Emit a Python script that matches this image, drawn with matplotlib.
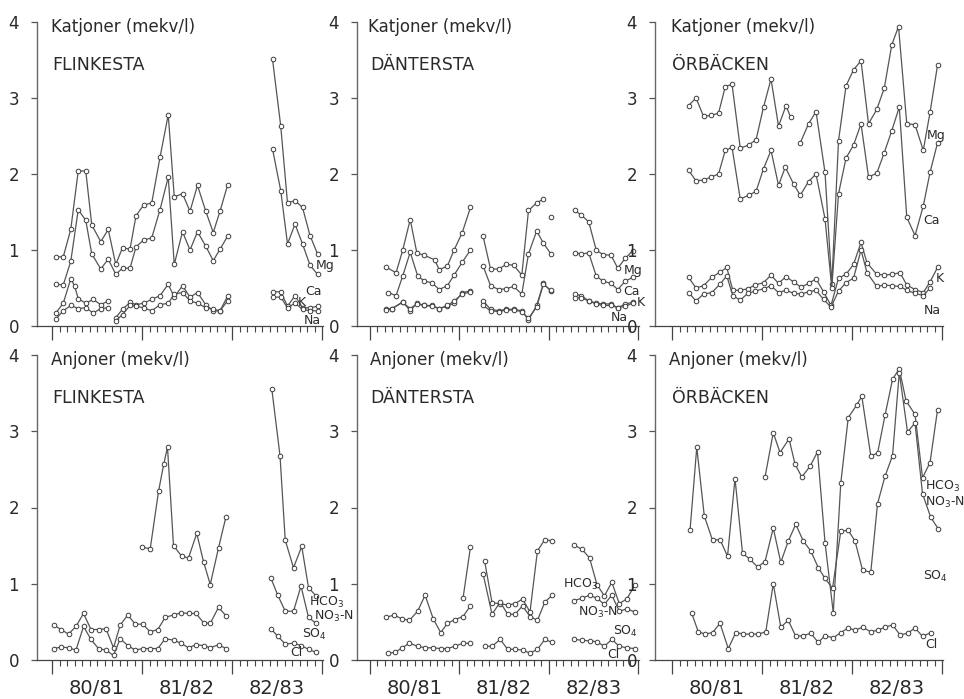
import matplotlib
matplotlib.use("Agg")
import matplotlib.pyplot as plt
import numpy as np

nan = np.nan
plt.rcParams['font.family'] = ['DejaVu Sans']
plt.rcParams['mathtext.default'] = 'regular'

years = ["80/81", "81/82", "82/83"]
year_mid = [6, 18, 30]

# ---- Katjoner, FLINKESTA
fl_k_x = [0.5, 1.5, 2.5, 3.5, 4.5, 5.3, 6.5, 7.5, 8.5, 9.4, 10.4, 11.2, 12.2, 13.3, 14.4, 15.5, 16.3, 17.4,
          18.4, 19.4, 20.5, 21.5, 22.4, 23.4, nan, 29.4, 30.5, 31.4, 32.4, 33.4, 34.4, 35.4]
fl_mg = [0.91, 0.91, 1.27, 2.04, 2.04, 1.33, 1.11, 1.27, 0.81, 1.03, 1.01, 1.45, 1.59, 1.62, 2.22, 2.78, 1.70, 1.74,
         1.51, 1.85, 1.51, 1.23, 1.51, 1.85, nan, 3.51, 2.63, 1.62, 1.65, 1.56, 1.19, 0.95]
fl_ca = [0.55, 0.54, 0.85, 1.53, 1.39, 0.95, 0.75, 0.88, 0.68, 0.76, 0.76, 1.04, 1.13, 1.16, 1.53, 1.96, 0.81, 1.24,
         1.00, 1.24, 1.05, 0.86, 1.01, 1.18, nan, 2.33, 1.78, 1.08, 1.34, 1.08, 0.80, 0.68]
fl_kk_x = [0.5, 1.5, 2.5, 3.0, 3.5, 4.5, 5.5, 6.5, 7.5, nan, 8.5, 9.4, 10.4, 11.2, 12.2, 13.3, 14.4, 15.5, 16.3,
           17.4, 18.4, 19.4, 20.5, 21.5, 22.4, 23.4, nan, 29.4, 30.5, 31.4, 32.4, 33.4, 34.4, 35.4]
fl_kk = [0.17, 0.30, 0.62, 0.53, 0.36, 0.30, 0.35, 0.28, 0.33, nan, 0.11, 0.22, 0.31, 0.28, 0.30, 0.35, 0.40, 0.55,
         0.38, 0.53, 0.38, 0.44, 0.28, 0.20, 0.20, 0.39, nan, 0.45, 0.45, 0.26, 0.40, 0.24, 0.24, 0.26]
fl_na_x = [0.5, 1.5, 2.5, 3.5, 4.5, 5.5, 6.5, 7.5, nan, 8.5, 9.4, 10.4, 11.2, 12.2, 13.3, 14.4, 15.5, 16.3,
           17.4, 18.4, 19.4, 20.5, 21.5, 22.4, 23.4, nan, 29.4, 30.5, 31.4, 32.4, 33.4, 34.4, 35.4]
fl_na = [0.09, 0.20, 0.27, 0.23, 0.24, 0.17, 0.23, 0.24, nan, 0.07, 0.15, 0.27, 0.26, 0.24, 0.20, 0.28, 0.30, 0.42,
         0.44, 0.33, 0.30, 0.24, 0.22, 0.20, 0.33, nan, 0.38, 0.38, 0.24, 0.30, 0.22, 0.20, 0.20]

# ---- Katjoner, DANTERSTA
da_mg_x = [2.1, 3.5, 4.4, 5.4, 6.3, 7.3, 8.7, 9.3, 10.4, 11.3, 12.4, 13.5, nan, 15.2, 16.2, 17.3, 18.3, 19.3, 20.4,
           21.3, 22.4, 23.3, nan, 24.3, nan, 27.5, 28.4, 29.4, 30.4, 31.3, 32.4, 33.3, 34.3, 35.3]
da_mg = [0.78, 0.70, 1.00, 1.40, 0.96, 0.93, 0.87, 0.74, 0.79, 1.00, 1.23, 1.56, nan, 1.18, 0.75, 0.75, 0.81, 0.80,
         0.67, 1.52, 1.62, 1.67, nan, 1.43, nan, 1.52, 1.46, 1.37, 1.00, 0.94, 0.93, 0.76, 0.89, 0.99]
da_ca_x = [2.4, 3.5, 4.4, 5.4, 6.4, 7.3, 8.3, 9.3, 10.4, 11.3, 12.4, 13.5, nan, 15.2, 16.2, 17.3, 18.3, 19.3, 20.4,
           21.3, 22.4, 23.3, 24.3, nan, 27.5, 28.4, 29.4, 30.4, 31.3, 32.4, 33.3, 34.3, 35.3]
da_ca = [0.44, 0.40, 0.66, 0.97, 0.66, 0.59, 0.57, 0.48, 0.53, 0.67, 0.84, 1.00, nan, 0.79, 0.53, 0.48, 0.49, 0.52,
         0.42, 0.95, 1.25, 1.09, 0.95, nan, 0.96, 0.95, 0.96, 0.66, 0.59, 0.56, 0.48, 0.59, 0.64]
da_kna_x = [2.1, 2.9, 4.4, 5.4, 6.3, 7.3, 8.3, 9.3, 10.4, 11.3, 12.4, 13.5, nan, 15.2, 16.2, 17.3, 18.3, 19.3, 20.4,
            21.3, 22.4, 23.3, 24.3, nan, 27.5, 28.4, 29.4, 30.4, 31.3, 32.4, 33.3, 34.3, 35.3]
da_kk = [0.22, 0.22, 0.32, 0.20, 0.30, 0.27, 0.27, 0.23, 0.26, 0.30, 0.44, 0.46, nan, 0.33, 0.22, 0.20, 0.22, 0.22,
         0.20, 0.08, 0.27, 0.56, 0.46, nan, 0.42, 0.40, 0.33, 0.30, 0.29, 0.29, 0.24, 0.29, 0.31]
da_na = [0.21, 0.23, 0.31, 0.23, 0.29, 0.27, 0.26, 0.23, 0.27, 0.33, 0.42, 0.45, nan, 0.27, 0.20, 0.19, 0.21, 0.21,
         0.19, 0.10, 0.25, 0.55, 0.47, nan, 0.37, 0.37, 0.33, 0.29, 0.27, 0.27, 0.24, 0.26, 0.30]

# ---- Katjoner, ÖRBÄCKEN
or_mg_x = [2.2, 3.2, 4.2, 5.2, 6.2, 7.1, 8.0, 9.1, 10.2, 11.2, 12.2, 13.2, 14.2, 15.2, 15.8, nan, 17.1, 18.2, 19.2,
           20.4, 21.3, 22.2, 23.2, 24.2, 25.2, 26.2, 27.3, 28.3, 29.3, 30.2, 31.3, 32.4, 33.5, 34.4, 35.4]
or_mg = [2.90, 3.00, 2.76, 2.77, 2.80, 3.15, 3.18, 2.34, 2.38, 2.45, 2.88, 3.25, 2.63, 2.90, 2.75, nan, 2.41, 2.66,
         2.82, 2.02, 0.55, 2.44, 3.16, 3.37, 3.49, 2.66, 2.85, 3.13, 3.70, 3.94, 2.66, 2.65, 2.31, 2.81, 3.43]
or_ca_x = [2.2, 3.2, 4.2, 5.2, 6.2, 7.1, 8.0, 9.1, 10.2, 11.2, 12.2, 13.2, 14.2, 15.1, 16.2, 17.1, 18.2, 19.2, 20.4,
           21.3, 22.2, 23.2, 24.2, 25.2, 26.2, 27.3, 28.3, 29.3, 30.3, 31.3, 32.4, 33.5, 34.4, 35.4]
or_ca = [2.05, 1.91, 1.92, 1.96, 2.00, 2.31, 2.35, 1.67, 1.72, 1.77, 2.07, 2.31, 1.85, 2.09, 1.87, 1.72, 1.90, 2.00,
         1.41, 0.50, 1.74, 2.21, 2.38, 2.66, 1.96, 2.01, 2.28, 2.57, 2.88, 1.43, 1.19, 1.58, 2.02, 2.41]
or_kk_x = [2.2, 3.2, 4.2, 5.3, 6.4, 7.3, 8.1, 9.1, 10.1, 11.1, 12.2, 13.2, 14.2, 15.2, 16.2, 17.2, 18.2, 19.2, 20.2,
           21.2, 22.2, 23.2, 24.2, 25.2, 26.0, 27.3, 28.3, 29.3, 30.4, 31.3, 32.4, 33.5, 34.4, 35.4]
or_kk = [0.64, 0.50, 0.53, 0.64, 0.71, 0.77, 0.47, 0.47, 0.49, 0.54, 0.57, 0.67, 0.56, 0.65, 0.58, 0.51, 0.56, 0.62,
         0.45, 0.27, 0.63, 0.68, 0.81, 1.10, 0.83, 0.68, 0.67, 0.68, 0.70, 0.54, 0.48, 0.44, 0.58, 0.77]
or_na_x = [2.2, 3.2, 4.2, 5.3, 6.4, 7.3, 8.1, 9.1, 10.1, 11.1, 12.2, 13.2, 14.2, 15.2, 16.2, 17.2, 18.2, 19.2, 20.2,
           21.2, 22.2, 23.2, 24.2, 25.2, 26.0, 27.3, 28.3, 29.3, 30.4, 31.3, 32.4, 33.5, 34.4]
or_na = [0.44, 0.33, 0.42, 0.44, 0.55, 0.66, 0.40, 0.34, 0.43, 0.46, 0.49, 0.53, 0.44, 0.47, 0.43, 0.42, 0.45, 0.47,
         0.35, 0.25, 0.46, 0.57, 0.63, 1.00, 0.70, 0.52, 0.54, 0.53, 0.52, 0.47, 0.43, 0.40, 0.50]

# ---- Anjoner, FLINKESTA
fla_hco3_x = [12.0, 13.1, 14.2, 14.9, 15.4, 16.2, 17.3, 18.2, 19.3, 20.2, 21.1, 22.2, 23.2, nan,
              29.3, 30.4, 31.1, 32.2, 33.3, 34.2, 35.2]
fla_hco3 = [1.48, 1.46, 2.21, 2.57, 2.79, 1.50, 1.36, 1.34, 1.66, 1.29, 0.99, 1.47, 1.88, nan,
            3.56, 2.68, 1.57, 1.21, 1.49, 0.95, 0.84]
fla_x = [0.2, 1.2, 2.2, 3.2, 4.2, 5.2, 6.2, 7.2, 8.2, 9.1, 10.1, 11.1, 12.1, 13.1, 14.1, 15.1, 16.2, 17.2, 18.2,
         19.2, 20.2, 21.1, 22.2, 23.2, nan, 29.2, 30.1, 31.1, 32.2, 33.2, 34.2, 35.2]
fla_so4 = [0.46, 0.40, 0.34, 0.44, 0.61, 0.40, 0.40, 0.41, 0.16, 0.46, 0.59, 0.47, 0.47, 0.37, 0.40, 0.56, 0.59, 0.62,
           0.61, 0.61, 0.49, 0.48, 0.69, 0.58, nan, 1.07, 0.85, 0.64, 0.64, 0.97, 0.56, 0.48]
fla_cl = [0.15, 0.17, 0.16, 0.13, 0.44, 0.27, 0.15, 0.13, 0.06, 0.28, 0.19, 0.13, 0.15, 0.15, 0.15, 0.28, 0.26, 0.22,
          0.16, 0.20, 0.19, 0.16, 0.20, 0.15, nan, 0.41, 0.31, 0.21, 0.22, 0.19, 0.14, 0.10]

# ---- Anjoner, DANTERSTA
daa_hco3_x = [12.5, 13.5, nan, 15.4, 16.4, 17.5, 18.5, 19.5, 20.5, 21.5, 22.5, 23.5, 24.5, nan,
              27.4, 28.5, 29.5, 30.5, 31.5, 32.5, 33.5, 34.5, 35.6]
daa_hco3 = [0.81, 1.48, nan, 1.30, 0.75, 0.74, 0.72, 0.74, 0.80, 0.63, 1.43, 1.58, 1.56, nan,
            1.51, 1.45, 1.34, 0.99, 0.84, 1.02, 0.74, 0.80, 0.98]
daa_so4_x = [2.2, 3.2, 4.3, 5.3, 6.4, 7.4, 8.5, 9.5, 10.4, 11.4, 12.5, 13.5, nan, 15.2, 16.4, 17.5, 18.5, 19.5,
             20.5, 21.5, 22.5, 23.5, 24.5, nan, 27.4, 28.5, 29.5, 30.5, 31.5, 32.5, 33.5, 34.5, 35.6]
daa_so4 = [0.56, 0.59, 0.54, 0.52, 0.64, 0.85, 0.54, 0.36, 0.48, 0.53, 0.57, 0.71, nan, 1.13, 0.60, 0.76, 0.60, 0.60,
           0.71, 0.57, 0.52, 0.76, 0.85, nan, 0.78, 0.81, 0.85, 0.81, 0.73, 0.85, 0.64, 0.67, 0.63]
daa_cl_x = [2.4, 3.4, 4.3, 5.3, 6.4, 7.4, 8.5, 9.5, 10.4, 11.4, 12.5, 13.5, nan, 15.4, 16.4, 17.5, 18.5, 19.5,
            20.5, 21.5, 22.5, 23.5, 24.5, nan, 27.4, 28.5, 29.5, 30.5, 31.5, 32.5, 33.5, 34.5, 35.6]
daa_cl = [0.09, 0.10, 0.16, 0.22, 0.18, 0.16, 0.16, 0.15, 0.15, 0.18, 0.22, 0.22, nan, 0.18, 0.18, 0.27, 0.14, 0.14,
          0.13, 0.09, 0.14, 0.27, 0.23, nan, 0.27, 0.26, 0.25, 0.24, 0.18, 0.27, 0.18, 0.16, 0.15]

# ---- Anjoner, ÖRBÄCKEN
ora_hco3_x = [12.4, 13.5, 14.4, 15.6, 16.4, 17.3, 18.4, 19.4, 20.4, 21.5, 22.5, 23.5, 24.6, 25.3, 26.5, 27.4,
              28.4, 29.4, 30.3, 31.2, 32.4, 33.4, 34.4, 35.4]
ora_hco3 = [2.40, 2.98, 2.72, 2.90, 2.57, 2.40, 2.54, 2.73, 1.54, 0.62, 2.32, 3.18, 3.34, 3.46, 2.68, 2.71,
            3.21, 3.68, 3.82, 3.40, 3.22, 2.39, 2.59, 3.28]
ora_no3_x = [2.4, 3.3, 4.3, 5.4, 6.4, 7.4, 8.4, 9.4, 10.4, 11.4, 12.4, 13.5, 14.5, 15.5, 16.5, 17.5, 18.5, 19.5,
             20.4, 21.4, 22.5, 23.5, 24.4, 25.4, 26.5, 27.4, 28.4, 29.4, 30.3, 31.4, 32.4, 33.4, 34.5, 35.5]
ora_no3 = [1.70, 2.79, 1.89, 1.57, 1.58, 1.36, 2.38, 1.40, 1.32, 1.22, 1.29, 1.73, 1.28, 1.56, 1.78, 1.56, 1.43, 1.21,
           1.07, 0.94, 1.69, 1.70, 1.56, 1.18, 1.15, 2.05, 2.41, 2.68, 3.77, 2.99, 3.11, 2.18, 1.87, 1.72]
ora_cl_x = [2.6, 3.5, 4.4, 5.4, 6.4, 7.5, 8.5, 9.5, 10.5, 11.5, 12.5, 13.5, 14.5, 15.5, 16.5, 17.5, 18.5, 19.5,
            20.4, 21.5, 22.5, 23.5, 24.4, 25.4, 26.5, 27.4, 28.4, 29.4, 30.4, 31.4, 32.4, 33.4, 34.5]
ora_cl = [0.62, 0.37, 0.34, 0.36, 0.48, 0.15, 0.36, 0.34, 0.34, 0.34, 0.37, 1.00, 0.43, 0.52, 0.31, 0.32, 0.35, 0.23,
          0.32, 0.29, 0.36, 0.42, 0.39, 0.43, 0.37, 0.39, 0.43, 0.46, 0.33, 0.35, 0.42, 0.31, 0.36]

W, H = 964, 699
fig = plt.figure(figsize=(W / 100, H / 100), dpi=100)
fig.patch.set_facecolor('white')

cols = [(37, -2.0, 7.5), (357, -1.75, 7.44), (655, -2.27, 7.5)]
rows = [(22, 326), (355, 660)]
ink = '#2a2a2a'
line_c = '#555555'


def make_ax(col, row):
    left, x0, ppm = cols[col]
    top, bot = rows[row]
    xmax = 36.1
    width = (xmax - x0) * ppm
    ax = fig.add_axes([left / W, 1 - bot / H, width / W, (bot - top) / H])
    ax.set_xlim(x0, xmax)
    ax.set_ylim(0, 4)
    ax.patch.set_alpha(0)
    for s in ['top', 'right']:
        ax.spines[s].set_visible(False)
    ax.spines['left'].set_color('#666666')
    ax.spines['bottom'].set_color('#444444')
    ax.spines['left'].set_linewidth(1.0)
    ax.spines['bottom'].set_linewidth(0.9)
    ax.set_xticks([0, 12, 24, 36])
    ax.set_xticks([m for m in range(1, 36) if m % 12], minor=True)
    ax.tick_params(axis='x', which='major', length=10, width=0.9, color='#444444', labelbottom=False)
    ax.tick_params(axis='x', which='minor', length=4.5, width=0.8, color='#444444')
    ax.set_yticks([0, 1, 2, 3, 4])
    ax.set_yticklabels(['0', '1', '2', '3', '4'])
    ax.tick_params(axis='y', length=4, width=0.9, color='#555555', pad=9, labelsize=12, labelcolor=ink)
    if row == 1:
        for m, lab in zip(year_mid, years):
            ax.text(m, -0.092, lab, transform=ax.get_xaxis_transform(), ha='center', va='center',
                    fontsize=14, color=ink)
    return ax


def series(ax, x, y):
    ax.plot(x, y, color=line_c, lw=0.9, marker='o', ms=3.3, mfc='white', mec='#3c3c3c', mew=0.7,
            clip_on=False)


def heading(ax, first, station, x0=-0.1):
    ax.text(x0, 3.87, first, fontsize=12, color=ink, ha='left', va='baseline')
    ax.text(0.0, 3.37, station, fontsize=12.5, color=ink, ha='left', va='baseline')


def tag(ax, x, y, s):
    ax.text(x, y, s, fontsize=9, color=ink, ha='left', va='center')


# top row: cations
ax = make_ax(0, 0)
heading(ax, 'Katjoner (mekv/l)', 'FLINKESTA')
series(ax, fl_k_x, fl_mg)
series(ax, fl_k_x, fl_ca)
series(ax, fl_kk_x, fl_kk)
series(ax, fl_na_x, fl_na)
tag(ax, 35.1, 0.79, 'Mg')
tag(ax, 33.7, 0.45, 'Ca')
tag(ax, 32.8, 0.31, 'K')
tag(ax, 33.5, 0.07, 'Na')

ax = make_ax(1, 0)
heading(ax, 'Katjoner (mekv/l)', 'DÄNTERSTA', -0.27)
series(ax, da_mg_x, da_mg)
series(ax, da_ca_x, da_ca)
series(ax, da_kna_x, da_kk)
series(ax, da_kna_x, da_na)
tag(ax, 34.1, 0.73, 'Mg')
tag(ax, 34.0, 0.45, 'Ca')
tag(ax, 35.9, 0.31, 'K')
tag(ax, 32.4, 0.11, 'Na')

ax = make_ax(2, 0)
heading(ax, 'Katjoner (mekv/l)', 'ÖRBÄCKEN', -0.17)
series(ax, or_mg_x, or_mg)
series(ax, or_ca_x, or_ca)
series(ax, or_kk_x, or_kk)
series(ax, or_na_x, or_na)
tag(ax, 33.9, 2.50, 'Mg')
tag(ax, 33.5, 1.39, 'Ca')
tag(ax, 35.1, 0.62, 'K')
tag(ax, 33.5, 0.21, 'Na')

# bottom row: anions
ax = make_ax(0, 1)
heading(ax, 'Anjoner (mekv/l)', 'FLINKESTA')
series(ax, fla_hco3_x, fla_hco3)
series(ax, fla_x, fla_so4)
series(ax, fla_x, fla_cl)
tag(ax, 34.2, 0.75, 'HCO$_3$')
tag(ax, 34.9, 0.57, 'NO$_3$-N')
tag(ax, 33.3, 0.34, 'SO$_4$')
tag(ax, 31.7, 0.10, 'Cl')

ax = make_ax(1, 1)
heading(ax, 'Anjoner (mekv/l)', 'DÄNTERSTA', 0.0)
series(ax, daa_hco3_x, daa_hco3)
series(ax, daa_so4_x, daa_so4)
series(ax, daa_cl_x, daa_cl)
tag(ax, 26.0, 0.99, 'HCO$_3$')
tag(ax, 27.9, 0.62, 'NO$_3$-N')
tag(ax, 32.6, 0.37, 'SO$_4$')
tag(ax, 31.9, 0.07, 'Cl')

ax = make_ax(2, 1)
heading(ax, 'Anjoner (mekv/l)', 'ÖRBÄCKEN', -0.4)
series(ax, ora_hco3_x, ora_hco3)
series(ax, ora_no3_x, ora_no3)
series(ax, ora_cl_x, ora_cl)
tag(ax, 33.7, 2.28, 'HCO$_3$')
tag(ax, 33.7, 2.06, 'NO$_3$-N')
tag(ax, 33.5, 1.09, 'SO$_4$')
tag(ax, 33.7, 0.20, 'Cl')

fig.savefig('out.png', dpi=100, facecolor='white')
